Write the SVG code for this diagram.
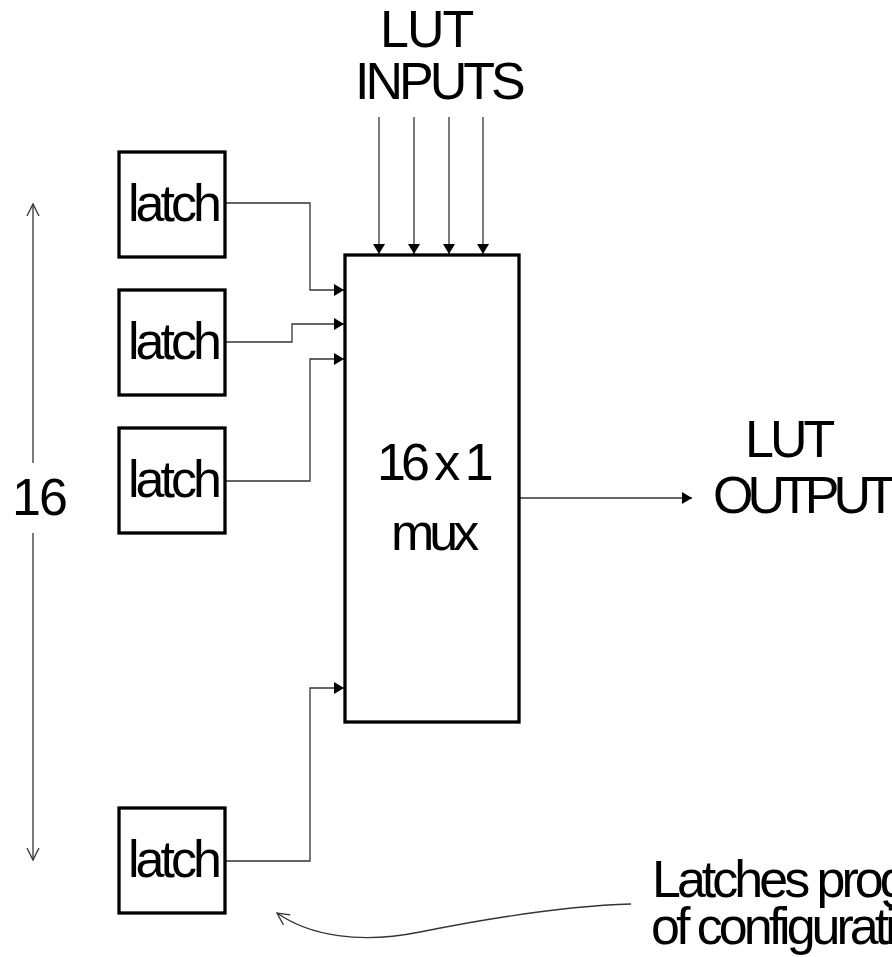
<svg xmlns="http://www.w3.org/2000/svg" width="892" height="957" viewBox="0 0 892 957">
<style>
.box{fill:#fff;stroke:#000;stroke-width:3.3}
.wire{fill:none;stroke:#333;stroke-width:1.3}
.t{font-family:"Liberation Sans",Arial,sans-serif;font-size:52px;fill:#000;letter-spacing:-4px}
</style>
<defs>
<marker id="ah" markerWidth="10" markerHeight="12" refX="10" refY="6" orient="auto" markerUnits="userSpaceOnUse">
<path d="M0,0 L10,6 L0,12 Z" fill="#000"/>
</marker>
<marker id="open" markerWidth="14" markerHeight="14" refX="12" refY="7" orient="auto" markerUnits="userSpaceOnUse">
<path d="M0,1 L12,7 L0,13" fill="none" stroke="#333" stroke-width="1.3"/>
</marker>
</defs>
<rect width="892" height="957" fill="#fff"/>
<g id="connectors">
<path class="wire" d="M225,203 H310 V290 H344" marker-end="url(#ah)"/>
<path class="wire" d="M225,342 H292 V324 H344" marker-end="url(#ah)"/>
<path class="wire" d="M225,481 H310 V359 H344" marker-end="url(#ah)"/>
<path class="wire" d="M225,861 H310 V688 H344" marker-end="url(#ah)"/>
<path class="wire" d="M379,117 V254" marker-end="url(#ah)"/>
<path class="wire" d="M414,117 V254" marker-end="url(#ah)"/>
<path class="wire" d="M449,117 V254" marker-end="url(#ah)"/>
<path class="wire" d="M483,117 V254" marker-end="url(#ah)"/>
<path class="wire" d="M519,498 H692" marker-end="url(#ah)"/>
<path class="wire" d="M33,463 V204" marker-end="url(#open)"/>
<path class="wire" d="M33,533 V860" marker-end="url(#open)"/>
<path class="wire" d="M631,904 C560,906 480,920 420,932 C360,944 310,936 277,913" marker-end="url(#open)"/>
</g>
<g id="latch1"><rect class="box" x="119" y="152" width="106" height="105"/><text class="t" x="128" y="221">latch</text></g>
<g id="latch2"><rect class="box" x="119" y="290" width="106" height="105"/><text class="t" x="128" y="359">latch</text></g>
<g id="latch3"><rect class="box" x="119" y="428" width="106" height="105"/><text class="t" x="128" y="497">latch</text></g>
<g id="latch4"><rect class="box" x="119" y="808" width="106" height="105"/><text class="t" x="128" y="877">latch</text></g>
<g id="mux"><rect class="box" x="345" y="255" width="174" height="467"/>
<text class="t" x="377" y="480" style="letter-spacing:-5px">16 x 1</text>
<text class="t" x="391" y="550" style="letter-spacing:-5px">mux</text></g>
<g id="lut-inputs"><text class="t" x="380" y="47" style="letter-spacing:-2px">LUT</text><text class="t" x="355" y="99">INPUTS</text></g>
<g id="lut-output"><text class="t" x="745" y="457">LUT</text><text class="t" x="713" y="513" style="letter-spacing:-6px">OUTPUT</text></g>
<g id="count"><text class="t" x="12" y="515" style="letter-spacing:-2px">16</text></g>
<g id="note"><text class="t" x="652" y="897">Latches programmed</text><text class="t" x="651" y="944">of configuration</text></g>
</svg>
